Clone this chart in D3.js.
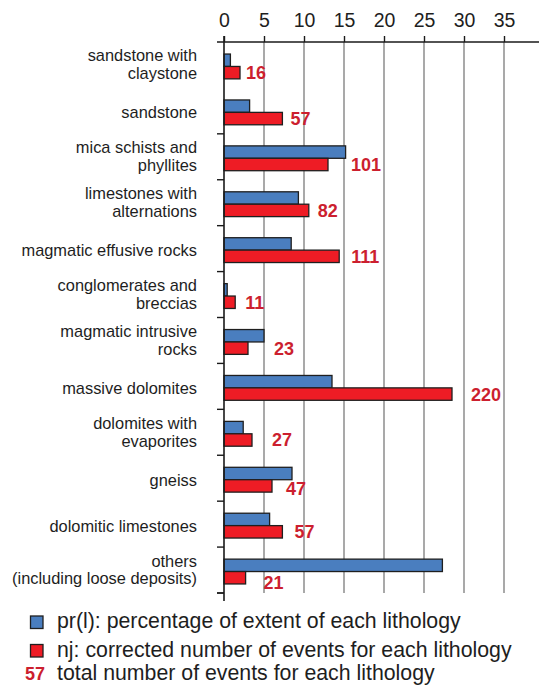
<!DOCTYPE html>
<html>
<head>
<meta charset="utf-8">
<script src="https://cdn.jsdelivr.net/npm/d3@7"></script>
<style>
  html, body { margin: 0; padding: 0; background: #fff; }
  svg { display: block; font-family: "Liberation Sans", Arial, sans-serif; }
</style>
</head>
<body>
<svg id="chart" width="539" height="685"></svg>
<script>
// Lithology categories (line breaks mark wrapped labels)
const categories = [
  "sandstone with\nclaystone",
  "sandstone",
  "mica schists and\nphyllites",
  "limestones with\nalternations",
  "magmatic effusive rocks",
  "conglomerates and\nbreccias",
  "magmatic intrusive\nrocks",
  "massive dolomites",
  "dolomites with\nevaporites",
  "gneiss",
  "dolomitic limestones",
  "others\n(including loose deposits)"
];
// pr(l): percentage of extent of each lithology
const prValues = [0.8, 3.2, 15.2, 9.3, 8.4, 0.4, 5.0, 13.5, 2.4, 8.5, 5.7, 27.3];
// nj: corrected number of events for each lithology
const njValues = [2.0, 7.3, 13.0, 10.6, 14.4, 1.4, 3.0, 28.5, 3.5, 6.0, 7.3, 2.7];
// total number of events for each lithology
const totalEvents = [16, 57, 101, 82, 111, 11, 23, 220, 27, 47, 57, 21];
// top axis ticks
const xTicks = [0, 5, 10, 15, 20, 25, 30, 35];

// extra horizontal gap (px) between each bar pair and its count label
const labelGap = [2, 4, 19, 5, 8, 6, 22, 15, 16, 10, 8, 14];
// extra vertical shift (px) of each count label
const labelDrop = [0, 0, 0, 0, 0, 0, 0, 0, 0, 3, 0, 5];

const BLUE = "#4a7ebf";
const RED = "#ee1c25";
const LABEL_RED = "#cc1f2f";
const TEXT = "#1e1e1e";

const svg = d3.select("#chart");
const rows = categories.map((c, i) => ({
  name: c, pr: prValues[i], nj: njValues[i], total: totalEvents[i],
  gap: labelGap[i], drop: labelDrop[i]
}));

const x = d3.scaleLinear().domain([0, 35]).range([224, 504]);
const y = d3.scaleBand().domain(d3.range(categories.length)).range([42, 593]).padding(0);
const sub = d3.scaleBand().domain(["pr", "nj"])
  .range([1.5, y.bandwidth() + 1.5]).paddingInner(0).paddingOuter(0.85);

// vertical grid lines
svg.append("g").selectAll("line").data(xTicks.filter(t => t > 0)).join("line")
  .attr("x1", d => x(d)).attr("x2", d => x(d))
  .attr("y1", 42).attr("y2", 593)
  .attr("stroke", "#858585").attr("stroke-width", 1.4);

// top axis
const xAxis = d3.axisTop(x).tickValues(xTicks).tickSize(6).tickPadding(9).tickSizeOuter(0);
const gx = svg.append("g").attr("transform", "translate(0,42)").call(xAxis);
gx.select(".domain").remove();
gx.selectAll(".tick line").attr("stroke", "#1a1a1a").attr("stroke-width", 1.4);
gx.selectAll(".tick text").attr("font-size", 19.5).attr("fill", TEXT)
  .attr("font-family", "'Liberation Sans', Arial, sans-serif");
svg.append("line").attr("x1", 217).attr("x2", 539).attr("y1", 42).attr("y2", 42)
  .attr("stroke", "#1a1a1a").attr("stroke-width", 1.6);

// bars
const groups = svg.append("g").selectAll("g").data(rows).join("g")
  .attr("transform", (d, i) => `translate(0,${y(i)})`);

groups.append("rect")
  .attr("x", x(0)).attr("y", sub("pr"))
  .attr("width", d => x(d.pr) - x(0)).attr("height", sub.bandwidth())
  .attr("fill", BLUE).attr("stroke", "#1f1f1f").attr("stroke-width", 1.3);

groups.append("rect")
  .attr("x", x(0)).attr("y", sub("nj"))
  .attr("width", d => x(d.nj) - x(0)).attr("height", sub.bandwidth())
  .attr("fill", RED).attr("stroke", "#1f1f1f").attr("stroke-width", 1.3);

// count labels
groups.append("text")
  .attr("x", d => x(d.nj) + d.gap + 4)
  .attr("y", d => sub("nj") + sub.bandwidth() / 2 + 6.5 + d.drop)
  .attr("font-size", 18).attr("font-weight", "bold").attr("fill", LABEL_RED)
  .text(d => d.total);

// category labels
const pairCenter = sub("nj");
groups.append("text")
  .attr("text-anchor", "end").attr("font-size", 16.4).attr("fill", TEXT)
  .each(function (d) {
    const lines = d.name.split("\n");
    const t = d3.select(this);
    const first = lines.length === 1 ? pairCenter + 6 : pairCenter - 5;
    lines.forEach((ln, k) => {
      t.append("tspan").attr("x", 197).attr("y", first + k * 17.8).text(ln);
    });
  });

// category axis on the left of the bars
const yAxis = d3.axisLeft(y).tickValues(d3.range(1, categories.length)).tickSize(7).tickFormat("");
const gy = svg.append("g").attr("transform", `translate(${x(0)},0)`).call(yAxis);
gy.select(".domain").remove();
gy.selectAll(".tick line")
  .attr("transform", (d) => `translate(0,${y.bandwidth() / 2})`)
  .attr("stroke", "#1a1a1a").attr("stroke-width", 1.4);
svg.append("line").attr("x1", x(0)).attr("x2", x(0)).attr("y1", 36).attr("y2", 601)
  .attr("stroke", "#1a1a1a").attr("stroke-width", 1.6);
svg.append("line").attr("x1", 217).attr("x2", x(0)).attr("y1", 593).attr("y2", 593)
  .attr("stroke", "#1a1a1a").attr("stroke-width", 1.4);

// legend
const legend = svg.append("g");
const legendItems = [
  { color: BLUE, text: "pr(l): percentage of extent of each lithology", y: 616 },
  { color: RED, text: "nj: corrected number of events for each lithology", y: 644.5 }
];
legendItems.forEach(it => {
  legend.append("rect").attr("x", 30.5).attr("y", it.y).attr("width", 12.5).attr("height", 12.5)
    .attr("fill", it.color).attr("stroke", "#1f1f1f").attr("stroke-width", 1.3);
  legend.append("text").attr("x", 57).attr("y", it.y + 12).attr("font-size", 21.3)
    .attr("fill", TEXT).text(it.text);
});
legend.append("text").attr("x", 45).attr("y", 680).attr("text-anchor", "end")
  .attr("font-size", 18).attr("font-weight", "bold").attr("fill", LABEL_RED).text("57");
legend.append("text").attr("x", 57).attr("y", 680).attr("font-size", 21.3)
  .attr("fill", TEXT).text("total number of events for each lithology");
</script>
</body>
</html>
